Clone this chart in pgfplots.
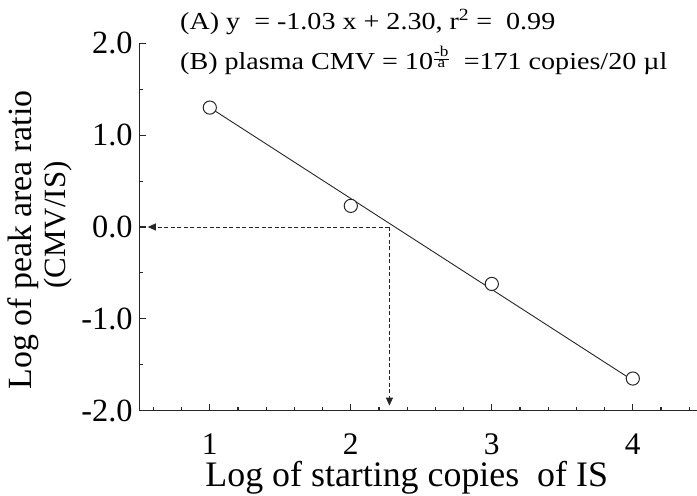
\documentclass[border=0pt]{standalone}
\usepackage{fontspec}
\setmainfont{Liberation Serif}
\newfontfamily\annfont[FakeStretch=1.15]{Liberation Serif}
\usepackage{pgfplots}
\pgfplotsset{compat=1.18}
\usetikzlibrary{arrows.meta}

\begin{document}
\begin{tikzpicture}[x=1bp,y=1bp]
\path[use as bounding box] (0,0) rectangle (697,496);
\begin{axis}[
  at={(139.3bp,85.3bp)}, anchor=south west,
  scale only axis, width=564bp, height=367.4bp,
  xmin=0.5, xmax=4.5, ymin=-2, ymax=2,
  axis x line=bottom, axis y line=left,
  axis line style={-, line width=1.3bp, color=black!85},
  xtick={1,2,3,4}, xticklabels={1,2,3,4},
  minor xtick={0.6,0.8,1.2,1.4,1.6,1.8,2.2,2.4,2.6,2.8,3.2,3.4,3.6,3.8,4.2,4.4},
  ytick={-2,-1,0,1,2}, yticklabels={-2.0,-1.0,0.0,1.0,2.0},
  minor ytick={-1.5,-0.5,0.5,1.5},
  tick align=inside,
  major tick length=7bp, minor tick length=3.5bp,
  tick style={line width=1.1bp, color=black!85},
  yticklabel style={font=\fontsize{32.5}{32.5}\selectfont, inner sep=0pt, xshift=-6.5bp},
  xticklabel style={font=\fontsize{31.5}{31.5}\selectfont, inner sep=0pt, yshift=-23bp},
  clip=false,
]
% fitted calibration line
\addplot[line width=0.9bp, black!85] coordinates {(1,1.30) (4,-1.67)};
% read-off of the unknown: y = 0 back to the x axis
\addplot[line width=0.9bp, black!85, dash pattern=on 4bp off 2.5bp,
  -{Triangle[length=8bp,width=7bp]}] coordinates {(2.274,0) (0.56,0)};
\addplot[line width=0.9bp, black!85, dash pattern=on 4bp off 2.5bp,
  -{Triangle[length=8bp,width=7bp]}] coordinates {(2.274,0) (2.274,-1.945)};
% measured points
\addplot[only marks, mark=*, mark size=6.6bp,
  mark options={fill=white, draw=black!85, line width=1bp}]
  coordinates {(1,1.30) (2,0.23) (3,-0.62) (4,-1.65)};
\end{axis}

\node[anchor=base west, inner sep=0pt, font=\annfont\fontsize{24.5}{28}\selectfont]
  at (180,466) {(A) y \ = -1.03 x + 2.30, r\textsuperscript{2} = \ 0.99};
\node[anchor=base west, inner sep=0pt, font=\annfont\fontsize{24.5}{28}\selectfont]
  at (180,426) {(B) plasma CMV = 10\raisebox{7.5bp}{\fontsize{15}{15}\selectfont$\frac{\mbox{-b}}{\mbox{a}}$} \ =171 copies/20 µl};

\node[anchor=base, inner sep=0pt, font=\fontsize{36}{36}\selectfont]
  at (406.7,9) {Log of starting copies \ of IS};
\node[anchor=base, inner sep=0pt, rotate=90, font=\fontsize{34}{34}\selectfont]
  at (31.7,256) {Log of peak area ratio};
\node[anchor=base, inner sep=0pt, rotate=90, font=\fontsize{31}{31}\selectfont]
  at (65,271) {(CMV/IS)};
\end{tikzpicture}
\end{document}
